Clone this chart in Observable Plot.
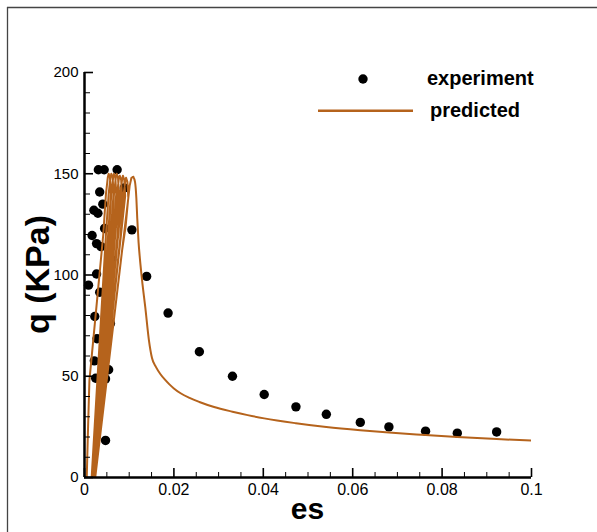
<!DOCTYPE html>
<html><head><meta charset="utf-8">
<script src="https://cdn.jsdelivr.net/npm/d3@7"></script>
<script src="https://cdn.jsdelivr.net/npm/@observablehq/plot@0.6"></script>
<style>
html,body{margin:0;padding:0;background:#fff;}
#chart{position:relative;width:597px;height:532px;overflow:hidden;}
</style></head><body><div id="chart"></div>
<script>
// experiment points
const expEs = [0.0009,0.0017,0.0021,0.0031,0.0044,0.0073,0.0034,0.0030,0.0041,0.0027,0.0037,0.0045,0.0027,0.0034,0.0061,0.0054,0.0023,0.0058,0.0028,0.0022,0.0054,0.0025,0.0047,0.0047,0.0089,0.0106,0.0139,0.0187,0.0257,0.0331,0.0402,0.0473,0.0541,0.0617,0.0681,0.0763,0.0834,0.0922];
const expQ  = [95,119.5,132,152,152,152,141,130.5,135,115.5,114,123,100.5,91.5,107.5,86,79.5,76,68.5,57.6,53.2,49,48.7,18.3,143,122.3,99.3,81.2,62.1,50,41,34.9,31.2,27.2,25,22.9,21.9,22.5];

// predicted curve: loading / unloading cycles
const loopEs = [
  0.0005,0.0008,0.0011,0.0027,0.0042,0.0048,0.0052,0.0054,0.0057,0.0059,0.0016,
  0.0048,0.0054,0.0058,0.0060,0.0063,0.0065,0.0018,
  0.0054,0.0060,0.0064,0.0066,0.0069,0.0071,0.0020,
  0.0060,0.0066,0.0070,0.0072,0.0075,0.0077,0.0021,
  0.0067,0.0073,0.0077,0.0079,0.0082,0.0084,0.0022,
  0.0074,0.0080,0.0084,0.0086,0.0089,0.0091,0.0023,
  0.0080,0.0087,0.0091,0.0093,0.0096,0.0098,0.0024,
  0.0084,0.0092,0.0097,0.0101,0.0105,0.0109
];
const loopQ = [
  0,25,48,85,120,140,148,150,148,140,0,
  120,140,148,150,148,140,0,
  120,140,148,150,148,140,0,
  120,140,148,150,148,140,0,
  120,140,148,149,147,139,0,
  120,140,147,149,147,139,0,
  118,139,146,148,146,138,0,
  112,124,136,144,148,148.5
];
// predicted curve: post-peak softening branch
const tailEs = [0.0109,0.0113,0.0116,0.0118,0.0121,0.0124,0.0129,0.0136,0.0144,0.0151,0.0160,0.0170,0.0180,0.0190,0.0200,0.0215,0.0235,0.0257,0.0290,0.0331,0.0365,0.0402,0.0473,0.0541,0.0617,0.0681,0.0763,0.0834,0.0922,0.1];
const tailQ  = [148.5,146,138,128,116,108,97,84,68,59,54.5,51,48.3,46,44,41.6,39.3,37.3,34.8,32.5,30.8,29.2,26.8,24.9,23.3,22.2,21.0,20.0,19.0,18.2];

const xTicks = [0,0.02,0.04,0.06,0.08,0.1];
const xTickLabels = ["0","0.02","0.04","0.06","0.08","0.1"];
const xMinor = [0.005,0.01,0.015,0.025,0.03,0.035,0.045,0.05,0.055,0.065,0.07,0.075,0.085,0.09,0.095];
const yTicks = [0,50,100,150,200];
const yTickLabels = ["0","50","100","150","200"];
const yMinor = [10,20,30,40,60,70,80,90,110,120,130,140,160,170,180,190];
const seriesNames = ["experiment","predicted"];
const xTitle = "es";
const yTitle = "q (KPa)";

const expData = expEs.map((e,i)=>({es:e,q:expQ[i]}));
const loopData = loopEs.map((e,i)=>({es:e,q:loopQ[i]}));
const tailData = tailEs.map((e,i)=>({es:e,q:tailQ[i]}));

const W=597,H=532,mL=84,mR=66,mT=72,mB=55;
const pw=W-mL-mR, ph=H-mT-mB;
const curveColor = "#b5631c";
const font = "'Liberation Sans', Arial, Helvetica, sans-serif";

const plot = Plot.plot({
  width: W, height: H,
  marginLeft: mL, marginRight: mR, marginTop: mT, marginBottom: mB,
  x: {domain:[0,0.1]},
  y: {domain:[0,200]},
  style: {fontFamily: font, background: "white", color: "black"},
  marks: [
    Plot.dot(expData, {x:"es", y:"q", r:4.7, fill:"black", stroke:"none"}),
    Plot.line(loopData, {x:"es", y:"q", stroke:curveColor, strokeWidth:2, clip:true}),
    Plot.line(tailData, {x:"es", y:"q", stroke:curveColor, strokeWidth:2, curve:"monotone-x", clip:true}),
    Plot.tickX(xTicks, {x:d=>d, insetTop: ph-9, stroke:"black", strokeWidth:1.6}),
    Plot.tickX(xMinor, {x:d=>d, insetTop: ph-5, stroke:"black", strokeWidth:1}),
    Plot.tickY(yTicks, {y:d=>d, insetRight: pw-9, stroke:"black", strokeWidth:1.6}),
    Plot.tickY(yMinor, {y:d=>d, insetRight: pw-6, stroke:"black", strokeWidth:1}),
    Plot.ruleX([0], {stroke:"black", strokeWidth:2.5}),
    Plot.ruleY([0], {stroke:"black", strokeWidth:2.5}),
    Plot.axisX(xTicks, {tickSize:0, tickPadding:6, fontSize:16, label:null,
      tickFormat: d => xTickLabels[xTicks.indexOf(d)]}),
    Plot.axisY(yTicks, {tickSize:0, tickPadding:6, fontSize:15, label:null,
      tickFormat: d => yTickLabels[yTicks.indexOf(d)]})
  ]
});
document.getElementById("chart").appendChild(plot);

const svg = d3.select(plot);
// outer frame (top and left edges visible)
svg.append("line").attr("x1",7).attr("x2",W).attr("y1",7.5).attr("y2",7.5).attr("stroke","#444").attr("stroke-width",1.3);
svg.append("line").attr("x1",7.5).attr("x2",7.5).attr("y1",7).attr("y2",H).attr("stroke","#444").attr("stroke-width",1.3);

// axis titles
svg.append("text").attr("x",(mL+W-mR)/2).attr("y",519).attr("text-anchor","middle")
  .attr("font-family",font).attr("font-weight","bold").attr("font-size",30).attr("fill","black").text(xTitle);
svg.append("text").attr("transform",`translate(49,${(mT+H-mB)/2}) rotate(-90)`).attr("text-anchor","middle")
  .attr("font-family",font).attr("font-weight","bold").attr("font-size",34).attr("fill","black").text(yTitle);

// legend
const lg = svg.append("g").attr("font-family",font).attr("font-weight","bold").attr("font-size",20)
  .attr("fill","black").attr("text-anchor","start");
lg.append("circle").attr("cx",363).attr("cy",79).attr("r",4.7).attr("fill","black");
lg.append("text").attr("x",427).attr("y",85).attr("text-anchor","start").text(seriesNames[0]);
lg.append("line").attr("x1",318).attr("x2",413).attr("y1",110.7).attr("y2",110.7).attr("stroke",curveColor).attr("stroke-width",2.5);
lg.append("text").attr("x",430).attr("y",116.7).attr("text-anchor","start").text(seriesNames[1]);
</script>
</body></html>
